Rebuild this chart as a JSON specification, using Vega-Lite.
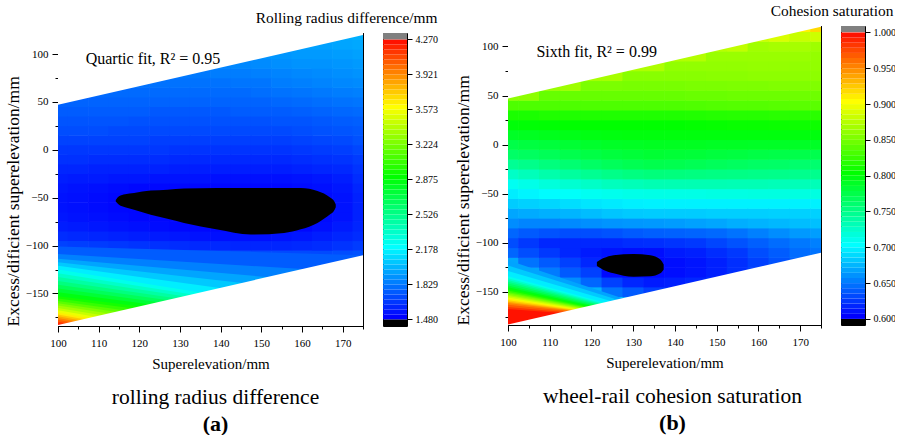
{
"$schema":"https://vega.github.io/schema/vega-lite/v6.json",
"padding":{"left":3,"top":3,"right":-6,"bottom":0},
"background":"white",
"config":{
 "font":"Liberation Serif",
 "view":{"stroke":"black","strokeWidth":1},
 "axis":{"labelFont":"Liberation Serif","titleFont":"Liberation Serif","labelFontSize":11,"titleFontSize":15,"titleFontWeight":"normal","labelColor":"black","titleColor":"black","tickColor":"black","domainColor":"black","grid":false,"zindex":1},
 "title":{"font":"Liberation Serif","fontWeight":"normal","color":"black","subtitleFont":"Liberation Serif","subtitleColor":"black"}
},
"datasets":{
"spacer":[{"s":0}],
"mask":[{"g":1,"x":100,"y":47,"y2":130},{"g":1,"x":175,"y":120,"y2":130},{"g":2,"x":100,"y":-183,"y2":-190},{"g":2,"x":175,"y":-110,"y2":-190}],
"noteA":[{"x":106.8,"y":89.6,"t":"Quartic fit, R² = 0.95"}],
"noteB":[{"x":106.8,"y":89.2,"t":"Sixth fit, R² = 0.99"}],
"ellA":[{"x":114.2,"y":-52.5,"y2":-54},{"x":115.0,"y":-48.5,"y2":-57.5},{"x":116.5,"y":-46.5,"y2":-60},{"x":118.7,"y":-45,"y2":-62.5},{"x":122.8,"y":-42.6,"y2":-67.7},{"x":126.9,"y":-41.6,"y2":-72},{"x":131.0,"y":-40.5,"y2":-76.3},{"x":139.2,"y":-39.8,"y2":-83.3},{"x":147.4,"y":-39.8,"y2":-88.5},{"x":155.6,"y":-39.8,"y2":-86.8},{"x":159.7,"y":-40,"y2":-83},{"x":163.8,"y":-43,"y2":-76.3},{"x":167.0,"y":-50,"y2":-67},{"x":167.8,"y":-53,"y2":-64.2},{"x":168.3,"y":-57,"y2":-60}],
"spotB":[{"x":121.3,"y":-119.5,"y2":-123.5},{"x":122.9,"y":-115.5,"y2":-127.5},{"x":125.3,"y":-112.5,"y2":-131},{"x":130.1,"y":-111.3,"y2":-134.5},{"x":134.1,"y":-112.5,"y2":-134},{"x":136.5,"y":-117,"y2":-131},{"x":137.3,"y":-122,"y2":-127}],
"bandA":[
{"k":10,"x":100,"y":-101,"y2":-260,"v":1.73},{"k":10,"x":175,"y":-110,"y2":-260,"v":1.73},
{"k":11,"x":100,"y":-108.9,"y2":-260,"v":1.83},{"k":11,"x":175,"y":-128.3,"y2":-260,"v":1.83},
{"k":12,"x":100,"y":-113.8,"y2":-260,"v":1.93},{"k":12,"x":175,"y":-141.7,"y2":-260,"v":1.93},
{"k":13,"x":100,"y":-117.5,"y2":-260,"v":2.03},{"k":13,"x":175,"y":-153.2,"y2":-260,"v":2.03},
{"k":14,"x":100,"y":-121.2,"y2":-260,"v":2.13},{"k":14,"x":175,"y":-164.9,"y2":-260,"v":2.13},
{"k":15,"x":100,"y":-124.9,"y2":-260,"v":2.23},{"k":15,"x":175,"y":-176.5,"y2":-260,"v":2.23},
{"k":16,"x":100,"y":-128.9,"y2":-260,"v":2.33},{"k":16,"x":175,"y":-179.0,"y2":-260,"v":2.33},
{"k":17,"x":100,"y":-132.9,"y2":-260,"v":2.43},{"k":17,"x":175,"y":-181.3,"y2":-260,"v":2.43},
{"k":18,"x":100,"y":-136.9,"y2":-260,"v":2.53},{"k":18,"x":175,"y":-183.6,"y2":-260,"v":2.53},
{"k":19,"x":100,"y":-140.8,"y2":-260,"v":2.63},{"k":19,"x":175,"y":-185.7,"y2":-260,"v":2.63},
{"k":20,"x":100,"y":-144.8,"y2":-260,"v":2.73},{"k":20,"x":175,"y":-188.1,"y2":-260,"v":2.73},
{"k":21,"x":100,"y":-148.8,"y2":-260,"v":2.83},{"k":21,"x":175,"y":-190.4,"y2":-260,"v":2.83},
{"k":22,"x":100,"y":-152.8,"y2":-260,"v":2.93},{"k":22,"x":175,"y":-192.6,"y2":-260,"v":2.93},
{"k":23,"x":100,"y":-155.3,"y2":-260,"v":3.02},{"k":23,"x":175,"y":-197.5,"y2":-260,"v":3.02},
{"k":24,"x":100,"y":-157.8,"y2":-260,"v":3.12},{"k":24,"x":175,"y":-202.6,"y2":-260,"v":3.12},
{"k":25,"x":100,"y":-160.2,"y2":-260,"v":3.22},{"k":25,"x":175,"y":-207.6,"y2":-260,"v":3.22},
{"k":26,"x":100,"y":-162.7,"y2":-260,"v":3.32},{"k":26,"x":175,"y":-212.7,"y2":-260,"v":3.32},
{"k":27,"x":100,"y":-165.1,"y2":-260,"v":3.42},{"k":27,"x":175,"y":-217.7,"y2":-260,"v":3.42},
{"k":28,"x":100,"y":-167.6,"y2":-260,"v":3.52},{"k":28,"x":175,"y":-222.8,"y2":-260,"v":3.52},
{"k":29,"x":100,"y":-170.0,"y2":-260,"v":3.62},{"k":29,"x":175,"y":-227.8,"y2":-260,"v":3.62},
{"k":30,"x":100,"y":-171.9,"y2":-260,"v":3.72},{"k":30,"x":175,"y":-230.0,"y2":-260,"v":3.72},
{"k":31,"x":100,"y":-173.9,"y2":-260,"v":3.82},{"k":31,"x":175,"y":-232.4,"y2":-260,"v":3.82},
{"k":32,"x":100,"y":-175.7,"y2":-260,"v":3.92},{"k":32,"x":175,"y":-234.5,"y2":-260,"v":3.92},
{"k":33,"x":100,"y":-177.6,"y2":-260,"v":4.02},{"k":33,"x":175,"y":-236.9,"y2":-260,"v":4.02},
{"k":34,"x":100,"y":-179.5,"y2":-260,"v":4.12},{"k":34,"x":175,"y":-239.1,"y2":-260,"v":4.12},
{"k":35,"x":100,"y":-181.4,"y2":-260,"v":4.22},{"k":35,"x":175,"y":-241.4,"y2":-260,"v":4.22}
],
"bandB":[
{"k":10,"x":100,"y":-117.7,"y2":-260,"v":0.664},{"k":10,"x":175,"y":-223.4,"y2":-260,"v":0.664},
{"k":11,"x":100,"y":-123.1,"y2":-260,"v":0.679},{"k":11,"x":175,"y":-222.6,"y2":-260,"v":0.679},
{"k":12,"x":100,"y":-128.6,"y2":-260,"v":0.693},{"k":12,"x":175,"y":-221.8,"y2":-260,"v":0.693},
{"k":13,"x":100,"y":-134.0,"y2":-260,"v":0.707},{"k":13,"x":175,"y":-221.0,"y2":-260,"v":0.707},
{"k":14,"x":100,"y":-135.9,"y2":-260,"v":0.721},{"k":14,"x":175,"y":-220.4,"y2":-260,"v":0.721},
{"k":15,"x":100,"y":-137.7,"y2":-260,"v":0.736},{"k":15,"x":175,"y":-219.5,"y2":-260,"v":0.736},
{"k":16,"x":100,"y":-139.6,"y2":-260,"v":0.75},{"k":16,"x":175,"y":-218.9,"y2":-260,"v":0.75},
{"k":17,"x":100,"y":-141.4,"y2":-260,"v":0.764},{"k":17,"x":175,"y":-218.1,"y2":-260,"v":0.764},
{"k":18,"x":100,"y":-143.3,"y2":-260,"v":0.779},{"k":18,"x":175,"y":-217.5,"y2":-260,"v":0.779},
{"k":19,"x":100,"y":-145.1,"y2":-260,"v":0.793},{"k":19,"x":175,"y":-216.7,"y2":-260,"v":0.793},
{"k":20,"x":100,"y":-147.0,"y2":-260,"v":0.807},{"k":20,"x":175,"y":-216.0,"y2":-260,"v":0.807},
{"k":21,"x":100,"y":-148.4,"y2":-260,"v":0.821},{"k":21,"x":175,"y":-214.6,"y2":-260,"v":0.821},
{"k":22,"x":100,"y":-149.9,"y2":-260,"v":0.836},{"k":22,"x":175,"y":-213.4,"y2":-260,"v":0.836},
{"k":23,"x":100,"y":-151.3,"y2":-260,"v":0.85},{"k":23,"x":175,"y":-211.9,"y2":-260,"v":0.85},
{"k":24,"x":100,"y":-152.7,"y2":-260,"v":0.864},{"k":24,"x":175,"y":-210.6,"y2":-260,"v":0.864},
{"k":25,"x":100,"y":-154.1,"y2":-260,"v":0.879},{"k":25,"x":175,"y":-209.2,"y2":-260,"v":0.879},
{"k":26,"x":100,"y":-155.6,"y2":-260,"v":0.893},{"k":26,"x":175,"y":-207.9,"y2":-260,"v":0.893},
{"k":27,"x":100,"y":-157.0,"y2":-260,"v":0.907},{"k":27,"x":175,"y":-206.5,"y2":-260,"v":0.907},
{"k":28,"x":100,"y":-158.4,"y2":-260,"v":0.921},{"k":28,"x":175,"y":-204.1,"y2":-260,"v":0.921},
{"k":29,"x":100,"y":-159.9,"y2":-260,"v":0.936},{"k":29,"x":175,"y":-201.7,"y2":-260,"v":0.936},
{"k":30,"x":100,"y":-161.3,"y2":-260,"v":0.95},{"k":30,"x":175,"y":-199.3,"y2":-260,"v":0.95},
{"k":31,"x":100,"y":-163.1,"y2":-260,"v":0.964},{"k":31,"x":175,"y":-196.7,"y2":-260,"v":0.964},
{"k":32,"x":100,"y":-165.2,"y2":-260,"v":0.979},{"k":32,"x":175,"y":-194.0,"y2":-260,"v":0.979},
{"k":33,"x":100,"y":-167.4,"y2":-260,"v":0.993},{"k":33,"x":175,"y":-191.4,"y2":-260,"v":0.993}
],
"a":[
{"x":100,"y":-180,"v":4.15},{"x":100,"y":-170,"v":3.57},{"x":100,"y":-160,"v":3.16},{"x":100,"y":-150,"v":2.80},{"x":100,"y":-140,"v":2.56},{"x":100,"y":-130,"v":2.31},{"x":100,"y":-120,"v":2.05},{"x":100,"y":-110,"v":1.80},{"x":100,"y":-100,"v":1.66},{"x":100,"y":-90,"v":1.60},{"x":100,"y":-80,"v":1.56},{"x":100,"y":-70,"v":1.54},{"x":100,"y":-60,"v":1.53},{"x":100,"y":-50,"v":1.53},{"x":100,"y":-40,"v":1.54},{"x":100,"y":-30,"v":1.56},{"x":100,"y":-20,"v":1.58},{"x":100,"y":-10,"v":1.61},{"x":100,"y":0,"v":1.63},{"x":100,"y":10,"v":1.66},{"x":100,"y":20,"v":1.69},{"x":100,"y":30,"v":1.71},{"x":100,"y":40,"v":1.73},{"x":100,"y":50,"v":1.75},
{"x":105,"y":-180,"v":3.75},{"x":105,"y":-170,"v":3.42},{"x":105,"y":-160,"v":3.05},{"x":105,"y":-150,"v":2.73},{"x":105,"y":-140,"v":2.48},{"x":105,"y":-130,"v":2.22},{"x":105,"y":-120,"v":1.98},{"x":105,"y":-110,"v":1.78},{"x":105,"y":-100,"v":1.65},{"x":105,"y":-90,"v":1.59},{"x":105,"y":-80,"v":1.55},{"x":105,"y":-70,"v":1.53},{"x":105,"y":-60,"v":1.52},{"x":105,"y":-50,"v":1.52},{"x":105,"y":-40,"v":1.53},{"x":105,"y":-30,"v":1.55},{"x":105,"y":-20,"v":1.58},{"x":105,"y":-10,"v":1.61},{"x":105,"y":0,"v":1.63},{"x":105,"y":10,"v":1.66},{"x":105,"y":20,"v":1.69},{"x":105,"y":30,"v":1.71},{"x":105,"y":40,"v":1.73},{"x":105,"y":50,"v":1.75},
{"x":110,"y":-180,"v":3.65},{"x":110,"y":-170,"v":3.30},{"x":110,"y":-160,"v":2.94},{"x":110,"y":-150,"v":2.66},{"x":110,"y":-140,"v":2.39},{"x":110,"y":-130,"v":2.14},{"x":110,"y":-120,"v":1.93},{"x":110,"y":-110,"v":1.76},{"x":110,"y":-100,"v":1.64},{"x":110,"y":-90,"v":1.58},{"x":110,"y":-80,"v":1.54},{"x":110,"y":-70,"v":1.52},{"x":110,"y":-60,"v":1.51},{"x":110,"y":-50,"v":1.51},{"x":110,"y":-40,"v":1.52},{"x":110,"y":-30,"v":1.55},{"x":110,"y":-20,"v":1.57},{"x":110,"y":-10,"v":1.60},{"x":110,"y":0,"v":1.63},{"x":110,"y":10,"v":1.66},{"x":110,"y":20,"v":1.69},{"x":110,"y":30,"v":1.71},{"x":110,"y":40,"v":1.73},{"x":110,"y":50,"v":1.75},{"x":110,"y":60,"v":1.77},
{"x":115,"y":-170,"v":3.15},{"x":115,"y":-160,"v":2.85},{"x":115,"y":-150,"v":2.58},{"x":115,"y":-140,"v":2.31},{"x":115,"y":-130,"v":2.08},{"x":115,"y":-120,"v":1.89},{"x":115,"y":-110,"v":1.74},{"x":115,"y":-100,"v":1.63},{"x":115,"y":-90,"v":1.57},{"x":115,"y":-80,"v":1.53},{"x":115,"y":-70,"v":1.51},{"x":115,"y":-60,"v":1.50},{"x":115,"y":-50,"v":1.50},{"x":115,"y":-40,"v":1.51},{"x":115,"y":-30,"v":1.54},{"x":115,"y":-20,"v":1.57},{"x":115,"y":-10,"v":1.60},{"x":115,"y":0,"v":1.63},{"x":115,"y":10,"v":1.66},{"x":115,"y":20,"v":1.68},{"x":115,"y":30,"v":1.71},{"x":115,"y":40,"v":1.73},{"x":115,"y":50,"v":1.75},{"x":115,"y":60,"v":1.77},
{"x":120,"y":-170,"v":3.00},{"x":120,"y":-160,"v":2.78},{"x":120,"y":-150,"v":2.50},{"x":120,"y":-140,"v":2.21},{"x":120,"y":-130,"v":2.03},{"x":120,"y":-120,"v":1.86},{"x":120,"y":-110,"v":1.73},{"x":120,"y":-100,"v":1.62},{"x":120,"y":-90,"v":1.56},{"x":120,"y":-80,"v":1.52},{"x":120,"y":-70,"v":1.50},{"x":120,"y":-60,"v":1.50},{"x":120,"y":-50,"v":1.50},{"x":120,"y":-40,"v":1.50},{"x":120,"y":-30,"v":1.54},{"x":120,"y":-20,"v":1.57},{"x":120,"y":-10,"v":1.60},{"x":120,"y":0,"v":1.63},{"x":120,"y":10,"v":1.66},{"x":120,"y":20,"v":1.68},{"x":120,"y":30,"v":1.70},{"x":120,"y":40,"v":1.73},{"x":120,"y":50,"v":1.75},{"x":120,"y":60,"v":1.77},{"x":120,"y":70,"v":1.79},
{"x":125,"y":-160,"v":2.65},{"x":125,"y":-150,"v":2.40},{"x":125,"y":-140,"v":2.14},{"x":125,"y":-130,"v":1.99},{"x":125,"y":-120,"v":1.83},{"x":125,"y":-110,"v":1.72},{"x":125,"y":-100,"v":1.61},{"x":125,"y":-90,"v":1.55},{"x":125,"y":-80,"v":1.51},{"x":125,"y":-70,"v":1.50},{"x":125,"y":-60,"v":1.50},{"x":125,"y":-50,"v":1.50},{"x":125,"y":-40,"v":1.50},{"x":125,"y":-30,"v":1.53},{"x":125,"y":-20,"v":1.57},{"x":125,"y":-10,"v":1.60},{"x":125,"y":0,"v":1.63},{"x":125,"y":10,"v":1.65},{"x":125,"y":20,"v":1.68},{"x":125,"y":30,"v":1.70},{"x":125,"y":40,"v":1.72},{"x":125,"y":50,"v":1.75},{"x":125,"y":60,"v":1.77},{"x":125,"y":70,"v":1.79},
{"x":130,"y":-160,"v":2.55},{"x":130,"y":-150,"v":2.30},{"x":130,"y":-140,"v":2.10},{"x":130,"y":-130,"v":1.95},{"x":130,"y":-120,"v":1.82},{"x":130,"y":-110,"v":1.71},{"x":130,"y":-100,"v":1.60},{"x":130,"y":-90,"v":1.54},{"x":130,"y":-80,"v":1.50},{"x":130,"y":-70,"v":1.50},{"x":130,"y":-60,"v":1.50},{"x":130,"y":-50,"v":1.50},{"x":130,"y":-40,"v":1.50},{"x":130,"y":-30,"v":1.53},{"x":130,"y":-20,"v":1.56},{"x":130,"y":-10,"v":1.59},{"x":130,"y":0,"v":1.62},{"x":130,"y":10,"v":1.65},{"x":130,"y":20,"v":1.68},{"x":130,"y":30,"v":1.70},{"x":130,"y":40,"v":1.72},{"x":130,"y":50,"v":1.75},{"x":130,"y":60,"v":1.77},{"x":130,"y":70,"v":1.79},{"x":130,"y":80,"v":1.81},
{"x":135,"y":-150,"v":2.20},{"x":135,"y":-140,"v":2.06},{"x":135,"y":-130,"v":1.92},{"x":135,"y":-120,"v":1.80},{"x":135,"y":-110,"v":1.70},{"x":135,"y":-100,"v":1.59},{"x":135,"y":-90,"v":1.53},{"x":135,"y":-80,"v":1.50},{"x":135,"y":-70,"v":1.50},{"x":135,"y":-60,"v":1.50},{"x":135,"y":-50,"v":1.50},{"x":135,"y":-40,"v":1.50},{"x":135,"y":-30,"v":1.53},{"x":135,"y":-20,"v":1.56},{"x":135,"y":-10,"v":1.59},{"x":135,"y":0,"v":1.62},{"x":135,"y":10,"v":1.65},{"x":135,"y":20,"v":1.68},{"x":135,"y":30,"v":1.70},{"x":135,"y":40,"v":1.72},{"x":135,"y":50,"v":1.75},{"x":135,"y":60,"v":1.77},{"x":135,"y":70,"v":1.79},{"x":135,"y":80,"v":1.81},
{"x":140,"y":-150,"v":2.13},{"x":140,"y":-140,"v":2.02},{"x":140,"y":-130,"v":1.90},{"x":140,"y":-120,"v":1.79},{"x":140,"y":-110,"v":1.70},{"x":140,"y":-100,"v":1.59},{"x":140,"y":-90,"v":1.52},{"x":140,"y":-80,"v":1.50},{"x":140,"y":-70,"v":1.50},{"x":140,"y":-60,"v":1.50},{"x":140,"y":-50,"v":1.50},{"x":140,"y":-40,"v":1.50},{"x":140,"y":-30,"v":1.52},{"x":140,"y":-20,"v":1.56},{"x":140,"y":-10,"v":1.59},{"x":140,"y":0,"v":1.62},{"x":140,"y":10,"v":1.65},{"x":140,"y":20,"v":1.68},{"x":140,"y":30,"v":1.70},{"x":140,"y":40,"v":1.72},{"x":140,"y":50,"v":1.75},{"x":140,"y":60,"v":1.77},{"x":140,"y":70,"v":1.79},{"x":140,"y":80,"v":1.82},{"x":140,"y":90,"v":1.84},
{"x":145,"y":-140,"v":1.98},{"x":145,"y":-130,"v":1.87},{"x":145,"y":-120,"v":1.78},{"x":145,"y":-110,"v":1.69},{"x":145,"y":-100,"v":1.58},{"x":145,"y":-90,"v":1.52},{"x":145,"y":-80,"v":1.50},{"x":145,"y":-70,"v":1.50},{"x":145,"y":-60,"v":1.50},{"x":145,"y":-50,"v":1.50},{"x":145,"y":-40,"v":1.50},{"x":145,"y":-30,"v":1.52},{"x":145,"y":-20,"v":1.56},{"x":145,"y":-10,"v":1.59},{"x":145,"y":0,"v":1.62},{"x":145,"y":10,"v":1.65},{"x":145,"y":20,"v":1.68},{"x":145,"y":30,"v":1.70},{"x":145,"y":40,"v":1.73},{"x":145,"y":50,"v":1.75},{"x":145,"y":60,"v":1.77},{"x":145,"y":70,"v":1.80},{"x":145,"y":80,"v":1.82},{"x":145,"y":90,"v":1.85},
{"x":150,"y":-140,"v":1.95},{"x":150,"y":-130,"v":1.85},{"x":150,"y":-120,"v":1.77},{"x":150,"y":-110,"v":1.68},{"x":150,"y":-100,"v":1.58},{"x":150,"y":-90,"v":1.52},{"x":150,"y":-80,"v":1.50},{"x":150,"y":-70,"v":1.50},{"x":150,"y":-60,"v":1.50},{"x":150,"y":-50,"v":1.50},{"x":150,"y":-40,"v":1.50},{"x":150,"y":-30,"v":1.52},{"x":150,"y":-20,"v":1.56},{"x":150,"y":-10,"v":1.59},{"x":150,"y":0,"v":1.62},{"x":150,"y":10,"v":1.65},{"x":150,"y":20,"v":1.68},{"x":150,"y":30,"v":1.70},{"x":150,"y":40,"v":1.73},{"x":150,"y":50,"v":1.75},{"x":150,"y":60,"v":1.78},{"x":150,"y":70,"v":1.80},{"x":150,"y":80,"v":1.83},{"x":150,"y":90,"v":1.86},{"x":150,"y":100,"v":1.88},
{"x":155,"y":-130,"v":1.83},{"x":155,"y":-120,"v":1.76},{"x":155,"y":-110,"v":1.68},{"x":155,"y":-100,"v":1.58},{"x":155,"y":-90,"v":1.53},{"x":155,"y":-80,"v":1.50},{"x":155,"y":-70,"v":1.50},{"x":155,"y":-60,"v":1.50},{"x":155,"y":-50,"v":1.50},{"x":155,"y":-40,"v":1.50},{"x":155,"y":-30,"v":1.52},{"x":155,"y":-20,"v":1.56},{"x":155,"y":-10,"v":1.59},{"x":155,"y":0,"v":1.62},{"x":155,"y":10,"v":1.65},{"x":155,"y":20,"v":1.68},{"x":155,"y":30,"v":1.71},{"x":155,"y":40,"v":1.73},{"x":155,"y":50,"v":1.76},{"x":155,"y":60,"v":1.79},{"x":155,"y":70,"v":1.82},{"x":155,"y":80,"v":1.84},{"x":155,"y":90,"v":1.87},{"x":155,"y":100,"v":1.89},
{"x":160,"y":-130,"v":1.82},{"x":160,"y":-120,"v":1.75},{"x":160,"y":-110,"v":1.68},{"x":160,"y":-100,"v":1.59},{"x":160,"y":-90,"v":1.54},{"x":160,"y":-80,"v":1.50},{"x":160,"y":-70,"v":1.50},{"x":160,"y":-60,"v":1.50},{"x":160,"y":-50,"v":1.50},{"x":160,"y":-40,"v":1.51},{"x":160,"y":-30,"v":1.53},{"x":160,"y":-20,"v":1.57},{"x":160,"y":-10,"v":1.60},{"x":160,"y":0,"v":1.63},{"x":160,"y":10,"v":1.66},{"x":160,"y":20,"v":1.69},{"x":160,"y":30,"v":1.71},{"x":160,"y":40,"v":1.74},{"x":160,"y":50,"v":1.77},{"x":160,"y":60,"v":1.80},{"x":160,"y":70,"v":1.83},{"x":160,"y":80,"v":1.85},{"x":160,"y":90,"v":1.88},{"x":160,"y":100,"v":1.90},{"x":160,"y":110,"v":1.92},
{"x":165,"y":-120,"v":1.74},{"x":165,"y":-110,"v":1.68},{"x":165,"y":-100,"v":1.60},{"x":165,"y":-90,"v":1.56},{"x":165,"y":-80,"v":1.52},{"x":165,"y":-70,"v":1.51},{"x":165,"y":-60,"v":1.51},{"x":165,"y":-50,"v":1.51},{"x":165,"y":-40,"v":1.52},{"x":165,"y":-30,"v":1.54},{"x":165,"y":-20,"v":1.58},{"x":165,"y":-10,"v":1.61},{"x":165,"y":0,"v":1.64},{"x":165,"y":10,"v":1.67},{"x":165,"y":20,"v":1.70},{"x":165,"y":30,"v":1.72},{"x":165,"y":40,"v":1.75},{"x":165,"y":50,"v":1.78},{"x":165,"y":60,"v":1.81},{"x":165,"y":70,"v":1.84},{"x":165,"y":80,"v":1.86},{"x":165,"y":90,"v":1.88},{"x":165,"y":100,"v":1.90},{"x":165,"y":110,"v":1.92},
{"x":170,"y":-120,"v":1.72},{"x":170,"y":-110,"v":1.69},{"x":170,"y":-100,"v":1.62},{"x":170,"y":-90,"v":1.58},{"x":170,"y":-80,"v":1.55},{"x":170,"y":-70,"v":1.53},{"x":170,"y":-60,"v":1.53},{"x":170,"y":-50,"v":1.53},{"x":170,"y":-40,"v":1.54},{"x":170,"y":-30,"v":1.56},{"x":170,"y":-20,"v":1.59},{"x":170,"y":-10,"v":1.62},{"x":170,"y":0,"v":1.65},{"x":170,"y":10,"v":1.68},{"x":170,"y":20,"v":1.71},{"x":170,"y":30,"v":1.73},{"x":170,"y":40,"v":1.76},{"x":170,"y":50,"v":1.79},{"x":170,"y":60,"v":1.82},{"x":170,"y":70,"v":1.85},{"x":170,"y":80,"v":1.87},{"x":170,"y":90,"v":1.89},{"x":170,"y":100,"v":1.91},{"x":170,"y":110,"v":1.93},{"x":170,"y":120,"v":1.95},
{"x":175,"y":-110,"v":1.70},{"x":175,"y":-100,"v":1.64},{"x":175,"y":-90,"v":1.60},{"x":175,"y":-80,"v":1.58},{"x":175,"y":-70,"v":1.57},{"x":175,"y":-60,"v":1.57},{"x":175,"y":-50,"v":1.57},{"x":175,"y":-40,"v":1.58},{"x":175,"y":-30,"v":1.60},{"x":175,"y":-20,"v":1.62},{"x":175,"y":-10,"v":1.64},{"x":175,"y":0,"v":1.67},{"x":175,"y":10,"v":1.70},{"x":175,"y":20,"v":1.72},{"x":175,"y":30,"v":1.74},{"x":175,"y":40,"v":1.77},{"x":175,"y":50,"v":1.80},{"x":175,"y":60,"v":1.83},{"x":175,"y":70,"v":1.86},{"x":175,"y":80,"v":1.88},{"x":175,"y":90,"v":1.90},{"x":175,"y":100,"v":1.92},{"x":175,"y":110,"v":1.94},{"x":175,"y":120,"v":1.96}
],
"b":[
{"x":100,"y":-180,"v":1.0},{"x":100,"y":-170,"v":0.99},{"x":100,"y":-160,"v":0.93},{"x":100,"y":-150,"v":0.83},{"x":100,"y":-140,"v":0.75},{"x":100,"y":-130,"v":0.69},{"x":100,"y":-120,"v":0.665},{"x":100,"y":-110,"v":0.64},{"x":100,"y":-100,"v":0.63},{"x":100,"y":-90,"v":0.64},{"x":100,"y":-80,"v":0.655},{"x":100,"y":-70,"v":0.665},{"x":100,"y":-60,"v":0.68},{"x":100,"y":-50,"v":0.693},{"x":100,"y":-40,"v":0.705},{"x":100,"y":-30,"v":0.722},{"x":100,"y":-20,"v":0.742},{"x":100,"y":-10,"v":0.76},{"x":100,"y":0,"v":0.772},{"x":100,"y":10,"v":0.785},{"x":100,"y":20,"v":0.797},{"x":100,"y":30,"v":0.81},{"x":100,"y":40,"v":0.83},{"x":100,"y":50,"v":0.855},
{"x":105,"y":-180,"v":1.0},{"x":105,"y":-170,"v":0.99},{"x":105,"y":-160,"v":0.90},{"x":105,"y":-150,"v":0.79},{"x":105,"y":-140,"v":0.70},{"x":105,"y":-130,"v":0.665},{"x":105,"y":-120,"v":0.645},{"x":105,"y":-110,"v":0.63},{"x":105,"y":-100,"v":0.622},{"x":105,"y":-90,"v":0.635},{"x":105,"y":-80,"v":0.652},{"x":105,"y":-70,"v":0.667},{"x":105,"y":-60,"v":0.682},{"x":105,"y":-50,"v":0.696},{"x":105,"y":-40,"v":0.709},{"x":105,"y":-30,"v":0.727},{"x":105,"y":-20,"v":0.746},{"x":105,"y":-10,"v":0.763},{"x":105,"y":0,"v":0.775},{"x":105,"y":10,"v":0.787},{"x":105,"y":20,"v":0.798},{"x":105,"y":30,"v":0.81},{"x":105,"y":40,"v":0.83},{"x":105,"y":50,"v":0.855},
{"x":110,"y":-180,"v":1.0},{"x":110,"y":-170,"v":0.98},{"x":110,"y":-160,"v":0.85},{"x":110,"y":-150,"v":0.73},{"x":110,"y":-140,"v":0.68},{"x":110,"y":-130,"v":0.648},{"x":110,"y":-120,"v":0.635},{"x":110,"y":-110,"v":0.622},{"x":110,"y":-100,"v":0.615},{"x":110,"y":-90,"v":0.632},{"x":110,"y":-80,"v":0.652},{"x":110,"y":-70,"v":0.669},{"x":110,"y":-60,"v":0.684},{"x":110,"y":-50,"v":0.699},{"x":110,"y":-40,"v":0.714},{"x":110,"y":-30,"v":0.733},{"x":110,"y":-20,"v":0.751},{"x":110,"y":-10,"v":0.766},{"x":110,"y":0,"v":0.777},{"x":110,"y":10,"v":0.789},{"x":110,"y":20,"v":0.799},{"x":110,"y":30,"v":0.812},{"x":110,"y":40,"v":0.83},{"x":110,"y":50,"v":0.84},{"x":110,"y":60,"v":0.86},
{"x":115,"y":-170,"v":0.93},{"x":115,"y":-160,"v":0.79},{"x":115,"y":-150,"v":0.69},{"x":115,"y":-140,"v":0.655},{"x":115,"y":-130,"v":0.635},{"x":115,"y":-120,"v":0.625},{"x":115,"y":-110,"v":0.615},{"x":115,"y":-100,"v":0.615},{"x":115,"y":-90,"v":0.63},{"x":115,"y":-80,"v":0.654},{"x":115,"y":-70,"v":0.671},{"x":115,"y":-60,"v":0.687},{"x":115,"y":-50,"v":0.702},{"x":115,"y":-40,"v":0.718},{"x":115,"y":-30,"v":0.738},{"x":115,"y":-20,"v":0.756},{"x":115,"y":-10,"v":0.77},{"x":115,"y":0,"v":0.78},{"x":115,"y":10,"v":0.791},{"x":115,"y":20,"v":0.8},{"x":115,"y":30,"v":0.812},{"x":115,"y":40,"v":0.83},{"x":115,"y":50,"v":0.84},{"x":115,"y":60,"v":0.862},
{"x":120,"y":-170,"v":0.82},{"x":120,"y":-160,"v":0.73},{"x":120,"y":-150,"v":0.67},{"x":120,"y":-140,"v":0.64},{"x":120,"y":-130,"v":0.625},{"x":120,"y":-120,"v":0.615},{"x":120,"y":-110,"v":0.61},{"x":120,"y":-100,"v":0.615},{"x":120,"y":-90,"v":0.63},{"x":120,"y":-80,"v":0.656},{"x":120,"y":-70,"v":0.674},{"x":120,"y":-60,"v":0.69},{"x":120,"y":-50,"v":0.705},{"x":120,"y":-40,"v":0.722},{"x":120,"y":-30,"v":0.743},{"x":120,"y":-20,"v":0.761},{"x":120,"y":-10,"v":0.773},{"x":120,"y":0,"v":0.783},{"x":120,"y":10,"v":0.793},{"x":120,"y":20,"v":0.8},{"x":120,"y":30,"v":0.812},{"x":120,"y":40,"v":0.83},{"x":120,"y":50,"v":0.84},{"x":120,"y":60,"v":0.848},{"x":120,"y":70,"v":0.865},
{"x":125,"y":-160,"v":0.69},{"x":125,"y":-150,"v":0.645},{"x":125,"y":-140,"v":0.625},{"x":125,"y":-130,"v":0.603},{"x":125,"y":-120,"v":0.603},{"x":125,"y":-110,"v":0.607},{"x":125,"y":-100,"v":0.615},{"x":125,"y":-90,"v":0.632},{"x":125,"y":-80,"v":0.658},{"x":125,"y":-70,"v":0.677},{"x":125,"y":-60,"v":0.692},{"x":125,"y":-50,"v":0.707},{"x":125,"y":-40,"v":0.726},{"x":125,"y":-30,"v":0.747},{"x":125,"y":-20,"v":0.765},{"x":125,"y":-10,"v":0.776},{"x":125,"y":0,"v":0.785},{"x":125,"y":10,"v":0.794},{"x":125,"y":20,"v":0.80},{"x":125,"y":30,"v":0.812},{"x":125,"y":40,"v":0.83},{"x":125,"y":50,"v":0.84},{"x":125,"y":60,"v":0.848},{"x":125,"y":70,"v":0.865},
{"x":130,"y":-160,"v":0.67},{"x":130,"y":-150,"v":0.635},{"x":130,"y":-140,"v":0.615},{"x":130,"y":-130,"v":0.603},{"x":130,"y":-120,"v":0.603},{"x":130,"y":-110,"v":0.605},{"x":130,"y":-100,"v":0.617},{"x":130,"y":-90,"v":0.635},{"x":130,"y":-80,"v":0.659},{"x":130,"y":-70,"v":0.679},{"x":130,"y":-60,"v":0.694},{"x":130,"y":-50,"v":0.709},{"x":130,"y":-40,"v":0.728},{"x":130,"y":-30,"v":0.75},{"x":130,"y":-20,"v":0.768},{"x":130,"y":-10,"v":0.778},{"x":130,"y":0,"v":0.786},{"x":130,"y":10,"v":0.795},{"x":130,"y":20,"v":0.80},{"x":130,"y":30,"v":0.812},{"x":130,"y":40,"v":0.83},{"x":130,"y":50,"v":0.84},{"x":130,"y":60,"v":0.847},{"x":130,"y":70,"v":0.853},{"x":130,"y":80,"v":0.868},
{"x":135,"y":-150,"v":0.625},{"x":135,"y":-140,"v":0.61},{"x":135,"y":-130,"v":0.603},{"x":135,"y":-120,"v":0.603},{"x":135,"y":-110,"v":0.605},{"x":135,"y":-100,"v":0.618},{"x":135,"y":-90,"v":0.637},{"x":135,"y":-80,"v":0.66},{"x":135,"y":-70,"v":0.68},{"x":135,"y":-60,"v":0.695},{"x":135,"y":-50,"v":0.71},{"x":135,"y":-40,"v":0.73},{"x":135,"y":-30,"v":0.752},{"x":135,"y":-20,"v":0.77},{"x":135,"y":-10,"v":0.78},{"x":135,"y":0,"v":0.787},{"x":135,"y":10,"v":0.795},{"x":135,"y":20,"v":0.80},{"x":135,"y":30,"v":0.812},{"x":135,"y":40,"v":0.83},{"x":135,"y":50,"v":0.84},{"x":135,"y":60,"v":0.847},{"x":135,"y":70,"v":0.853},{"x":135,"y":80,"v":0.868},
{"x":140,"y":-150,"v":0.62},{"x":140,"y":-140,"v":0.612},{"x":140,"y":-130,"v":0.605},{"x":140,"y":-120,"v":0.605},{"x":140,"y":-110,"v":0.61},{"x":140,"y":-100,"v":0.62},{"x":140,"y":-90,"v":0.638},{"x":140,"y":-80,"v":0.661},{"x":140,"y":-70,"v":0.68},{"x":140,"y":-60,"v":0.695},{"x":140,"y":-50,"v":0.71},{"x":140,"y":-40,"v":0.73},{"x":140,"y":-30,"v":0.751},{"x":140,"y":-20,"v":0.769},{"x":140,"y":-10,"v":0.779},{"x":140,"y":0,"v":0.787},{"x":140,"y":10,"v":0.795},{"x":140,"y":20,"v":0.80},{"x":140,"y":30,"v":0.812},{"x":140,"y":40,"v":0.83},{"x":140,"y":50,"v":0.84},{"x":140,"y":60,"v":0.847},{"x":140,"y":70,"v":0.853},{"x":140,"y":80,"v":0.857},{"x":140,"y":90,"v":0.87},
{"x":145,"y":-140,"v":0.615},{"x":145,"y":-130,"v":0.608},{"x":145,"y":-120,"v":0.608},{"x":145,"y":-110,"v":0.612},{"x":145,"y":-100,"v":0.622},{"x":145,"y":-90,"v":0.639},{"x":145,"y":-80,"v":0.663},{"x":145,"y":-70,"v":0.68},{"x":145,"y":-60,"v":0.695},{"x":145,"y":-50,"v":0.71},{"x":145,"y":-40,"v":0.73},{"x":145,"y":-30,"v":0.75},{"x":145,"y":-20,"v":0.767},{"x":145,"y":-10,"v":0.778},{"x":145,"y":0,"v":0.787},{"x":145,"y":10,"v":0.795},{"x":145,"y":20,"v":0.801},{"x":145,"y":30,"v":0.813},{"x":145,"y":40,"v":0.831},{"x":145,"y":50,"v":0.841},{"x":145,"y":60,"v":0.848},{"x":145,"y":70,"v":0.853},{"x":145,"y":80,"v":0.857},{"x":145,"y":90,"v":0.87},
{"x":150,"y":-140,"v":0.62},{"x":150,"y":-130,"v":0.612},{"x":150,"y":-120,"v":0.612},{"x":150,"y":-110,"v":0.617},{"x":150,"y":-100,"v":0.627},{"x":150,"y":-90,"v":0.641},{"x":150,"y":-80,"v":0.665},{"x":150,"y":-70,"v":0.681},{"x":150,"y":-60,"v":0.695},{"x":150,"y":-50,"v":0.711},{"x":150,"y":-40,"v":0.73},{"x":150,"y":-30,"v":0.749},{"x":150,"y":-20,"v":0.765},{"x":150,"y":-10,"v":0.776},{"x":150,"y":0,"v":0.786},{"x":150,"y":10,"v":0.795},{"x":150,"y":20,"v":0.802},{"x":150,"y":30,"v":0.814},{"x":150,"y":40,"v":0.832},{"x":150,"y":50,"v":0.841},{"x":150,"y":60,"v":0.848},{"x":150,"y":70,"v":0.854},{"x":150,"y":80,"v":0.857},{"x":150,"y":90,"v":0.86},{"x":150,"y":100,"v":0.872},
{"x":155,"y":-130,"v":0.618},{"x":155,"y":-120,"v":0.618},{"x":155,"y":-110,"v":0.622},{"x":155,"y":-100,"v":0.632},{"x":155,"y":-90,"v":0.645},{"x":155,"y":-80,"v":0.668},{"x":155,"y":-70,"v":0.681},{"x":155,"y":-60,"v":0.695},{"x":155,"y":-50,"v":0.711},{"x":155,"y":-40,"v":0.729},{"x":155,"y":-30,"v":0.748},{"x":155,"y":-20,"v":0.763},{"x":155,"y":-10,"v":0.775},{"x":155,"y":0,"v":0.786},{"x":155,"y":10,"v":0.795},{"x":155,"y":20,"v":0.803},{"x":155,"y":30,"v":0.815},{"x":155,"y":40,"v":0.833},{"x":155,"y":50,"v":0.842},{"x":155,"y":60,"v":0.849},{"x":155,"y":70,"v":0.854},{"x":155,"y":80,"v":0.857},{"x":155,"y":90,"v":0.86},{"x":155,"y":100,"v":0.875},
{"x":160,"y":-130,"v":0.625},{"x":160,"y":-120,"v":0.625},{"x":160,"y":-110,"v":0.63},{"x":160,"y":-100,"v":0.637},{"x":160,"y":-90,"v":0.65},{"x":160,"y":-80,"v":0.67},{"x":160,"y":-70,"v":0.681},{"x":160,"y":-60,"v":0.695},{"x":160,"y":-50,"v":0.712},{"x":160,"y":-40,"v":0.729},{"x":160,"y":-30,"v":0.747},{"x":160,"y":-20,"v":0.761},{"x":160,"y":-10,"v":0.773},{"x":160,"y":0,"v":0.785},{"x":160,"y":10,"v":0.795},{"x":160,"y":20,"v":0.803},{"x":160,"y":30,"v":0.815},{"x":160,"y":40,"v":0.833},{"x":160,"y":50,"v":0.842},{"x":160,"y":60,"v":0.849},{"x":160,"y":70,"v":0.855},{"x":160,"y":80,"v":0.858},{"x":160,"y":90,"v":0.86},{"x":160,"y":100,"v":0.863},{"x":160,"y":110,"v":0.88},
{"x":165,"y":-120,"v":0.632},{"x":165,"y":-110,"v":0.636},{"x":165,"y":-100,"v":0.642},{"x":165,"y":-90,"v":0.655},{"x":165,"y":-80,"v":0.672},{"x":165,"y":-70,"v":0.682},{"x":165,"y":-60,"v":0.695},{"x":165,"y":-50,"v":0.712},{"x":165,"y":-40,"v":0.728},{"x":165,"y":-30,"v":0.746},{"x":165,"y":-20,"v":0.76},{"x":165,"y":-10,"v":0.772},{"x":165,"y":0,"v":0.785},{"x":165,"y":10,"v":0.795},{"x":165,"y":20,"v":0.804},{"x":165,"y":30,"v":0.816},{"x":165,"y":40,"v":0.834},{"x":165,"y":50,"v":0.842},{"x":165,"y":60,"v":0.85},{"x":165,"y":70,"v":0.855},{"x":165,"y":80,"v":0.858},{"x":165,"y":90,"v":0.86},{"x":165,"y":100,"v":0.865},{"x":165,"y":110,"v":0.885},
{"x":170,"y":-120,"v":0.638},{"x":170,"y":-110,"v":0.642},{"x":170,"y":-100,"v":0.647},{"x":170,"y":-90,"v":0.66},{"x":170,"y":-80,"v":0.674},{"x":170,"y":-70,"v":0.682},{"x":170,"y":-60,"v":0.695},{"x":170,"y":-50,"v":0.712},{"x":170,"y":-40,"v":0.728},{"x":170,"y":-30,"v":0.745},{"x":170,"y":-20,"v":0.758},{"x":170,"y":-10,"v":0.771},{"x":170,"y":0,"v":0.785},{"x":170,"y":10,"v":0.795},{"x":170,"y":20,"v":0.805},{"x":170,"y":30,"v":0.816},{"x":170,"y":40,"v":0.835},{"x":170,"y":50,"v":0.843},{"x":170,"y":60,"v":0.85},{"x":170,"y":70,"v":0.855},{"x":170,"y":80,"v":0.857},{"x":170,"y":90,"v":0.86},{"x":170,"y":100,"v":0.865},{"x":170,"y":110,"v":0.878},{"x":170,"y":120,"v":0.905},
{"x":175,"y":-110,"v":0.645},{"x":175,"y":-100,"v":0.65},{"x":175,"y":-90,"v":0.662},{"x":175,"y":-80,"v":0.675},{"x":175,"y":-70,"v":0.682},{"x":175,"y":-60,"v":0.695},{"x":175,"y":-50,"v":0.712},{"x":175,"y":-40,"v":0.728},{"x":175,"y":-30,"v":0.745},{"x":175,"y":-20,"v":0.757},{"x":175,"y":-10,"v":0.77},{"x":175,"y":0,"v":0.785},{"x":175,"y":10,"v":0.795},{"x":175,"y":20,"v":0.805},{"x":175,"y":30,"v":0.816},{"x":175,"y":40,"v":0.835},{"x":175,"y":50,"v":0.843},{"x":175,"y":60,"v":0.85},{"x":175,"y":70,"v":0.855},{"x":175,"y":80,"v":0.857},{"x":175,"y":90,"v":0.858},{"x":175,"y":100,"v":0.862},{"x":175,"y":110,"v":0.88},{"x":175,"y":120,"v":0.915}
],
"barA":[
{"lo":1.414,"hi":1.48},{"lo":1.480,"hi":1.530},{"lo":1.530,"hi":1.580},{"lo":1.580,"hi":1.630},{"lo":1.630,"hi":1.679},{"lo":1.679,"hi":1.729},{"lo":1.729,"hi":1.779},{"lo":1.779,"hi":1.829},{"lo":1.829,"hi":1.879},{"lo":1.879,"hi":1.929},{"lo":1.929,"hi":1.978},{"lo":1.978,"hi":2.028},{"lo":2.028,"hi":2.078},{"lo":2.078,"hi":2.128},{"lo":2.128,"hi":2.178},{"lo":2.178,"hi":2.228},{"lo":2.228,"hi":2.277},{"lo":2.277,"hi":2.327},{"lo":2.327,"hi":2.377},{"lo":2.377,"hi":2.427},{"lo":2.427,"hi":2.477},{"lo":2.477,"hi":2.526},{"lo":2.526,"hi":2.576},{"lo":2.576,"hi":2.626},{"lo":2.626,"hi":2.676},{"lo":2.676,"hi":2.726},{"lo":2.726,"hi":2.775},{"lo":2.775,"hi":2.825},{"lo":2.825,"hi":2.875},{"lo":2.875,"hi":2.925},{"lo":2.925,"hi":2.975},{"lo":2.975,"hi":3.024},{"lo":3.024,"hi":3.074},{"lo":3.074,"hi":3.124},{"lo":3.124,"hi":3.174},{"lo":3.174,"hi":3.224},{"lo":3.224,"hi":3.274},{"lo":3.274,"hi":3.323},{"lo":3.323,"hi":3.373},{"lo":3.373,"hi":3.423},{"lo":3.423,"hi":3.473},{"lo":3.473,"hi":3.523},{"lo":3.523,"hi":3.573},{"lo":3.573,"hi":3.622},{"lo":3.622,"hi":3.672},{"lo":3.672,"hi":3.722},{"lo":3.722,"hi":3.772},{"lo":3.772,"hi":3.822},{"lo":3.822,"hi":3.871},{"lo":3.871,"hi":3.921},{"lo":3.921,"hi":3.971},{"lo":3.971,"hi":4.021},{"lo":4.021,"hi":4.071},{"lo":4.071,"hi":4.121},{"lo":4.121,"hi":4.170},{"lo":4.170,"hi":4.220},{"lo":4.220,"hi":4.270},{"lo":4.2705,"hi":4.334}
],
"barB":[
{"lo":0.5915,"hi":0.6},{"lo":0.6000,"hi":0.6071},{"lo":0.6071,"hi":0.6143},{"lo":0.6143,"hi":0.6214},{"lo":0.6214,"hi":0.6286},{"lo":0.6286,"hi":0.6357},{"lo":0.6357,"hi":0.6429},{"lo":0.6429,"hi":0.6500},{"lo":0.6500,"hi":0.6571},{"lo":0.6571,"hi":0.6643},{"lo":0.6643,"hi":0.6714},{"lo":0.6714,"hi":0.6786},{"lo":0.6786,"hi":0.6857},{"lo":0.6857,"hi":0.6929},{"lo":0.6929,"hi":0.7000},{"lo":0.7000,"hi":0.7071},{"lo":0.7071,"hi":0.7143},{"lo":0.7143,"hi":0.7214},{"lo":0.7214,"hi":0.7286},{"lo":0.7286,"hi":0.7357},{"lo":0.7357,"hi":0.7429},{"lo":0.7429,"hi":0.7500},{"lo":0.7500,"hi":0.7571},{"lo":0.7571,"hi":0.7643},{"lo":0.7643,"hi":0.7714},{"lo":0.7714,"hi":0.7786},{"lo":0.7786,"hi":0.7857},{"lo":0.7857,"hi":0.7929},{"lo":0.7929,"hi":0.8000},{"lo":0.8000,"hi":0.8071},{"lo":0.8071,"hi":0.8143},{"lo":0.8143,"hi":0.8214},{"lo":0.8214,"hi":0.8286},{"lo":0.8286,"hi":0.8357},{"lo":0.8357,"hi":0.8429},{"lo":0.8429,"hi":0.8500},{"lo":0.8500,"hi":0.8571},{"lo":0.8571,"hi":0.8643},{"lo":0.8643,"hi":0.8714},{"lo":0.8714,"hi":0.8786},{"lo":0.8786,"hi":0.8857},{"lo":0.8857,"hi":0.8929},{"lo":0.8929,"hi":0.9000},{"lo":0.9000,"hi":0.9071},{"lo":0.9071,"hi":0.9143},{"lo":0.9143,"hi":0.9214},{"lo":0.9214,"hi":0.9286},{"lo":0.9286,"hi":0.9357},{"lo":0.9357,"hi":0.9429},{"lo":0.9429,"hi":0.9500},{"lo":0.9500,"hi":0.9571},{"lo":0.9571,"hi":0.9643},{"lo":0.9643,"hi":0.9714},{"lo":0.9714,"hi":0.9786},{"lo":0.9786,"hi":0.9857},{"lo":0.9857,"hi":0.9929},{"lo":0.9929,"hi":1.0},{"lo":1.0005,"hi":1.009}
]
},
"resolve":{"scale":{"color":"independent"}},
"spacing":15,
"hconcat":[
{"vconcat":[
  {"width":1,"height":1,"data":{"name":"spacer"},"mark":{"type":"rect","opacity":0},"encoding":{},"view":{"stroke":null}},
  {"hconcat":[
   {"width":305,"height":293,
    "title":{"text":"rolling radius difference","subtitle":"(a)","orient":"bottom","anchor":"middle","frame":"group","dx":5,"offset":16,"fontSize":21.5,"subtitleFontSize":22,"subtitleFontWeight":"bold","subtitlePadding":5},
    "resolve":{"axis":{"x":"independent","y":"independent"}},
    "layer":[
     {"encoding":{
       "x":{"field":"x","type":"quantitative","scale":{"domain":[100,175],"nice":false,"zero":false},"axis":{"title":"Superelevation/mm","values":[100,105,110,115,120,125,130,135,140,145,150,155,160,165,170,175],"labelExpr":"datum.value % 10 === 0 ? datum.label : ''","tickSize":{"condition":{"test":"datum.value % 10 === 0","value":6},"value":3},"labelFlush":false,"labelOverlap":false,"labelPadding":5,"titlePadding":8}},
       "y":{"field":"y","type":"quantitative","scale":{"domain":[-184,122],"nice":false,"zero":false},"axis":{"title":"Excess/dificient superelevation/mm","titleFontSize":17.5,"titleAnchor":"start","values":[-175,-150,-125,-100,-75,-50,-25,0,25,50,75,100],"labelExpr":"datum.value % 50 === 0 ? datum.label : ''","tickSize":{"condition":{"test":"datum.value % 50 === 0","value":6},"value":3},"labelOverlap":false,"labelPadding":4,"titlePadding":3}}
      },
      "layer":[
       {"data":{"name":"a"},"mark":{"type":"rect","width":21,"height":10.2,"clip":true},
        "encoding":{"color":{"field":"v","type":"quantitative","legend":null,"scale":{"type":"linear","domain":[1.3,1.4799,1.48,1.829,2.178,2.526,2.875,3.224,3.573,3.921,4.27,4.2701,4.5],"range":["#000000","#000000","#0000ff","#0080ff","#00ffff","#00ff80","#00ff00","#80ff00","#ffff00","#ff8000","#ff0000","#808080","#808080"],"interpolate":"rgb","clamp":true,"zero":false,"nice":false}}}},
       {"data":{"name":"bandA"},"mark":{"type":"area","clip":true},"encoding":{"y2":{"field":"y2"},"detail":{"field":"k","type":"ordinal"},"color":{"field":"v","type":"quantitative","legend":null}}},
       {"data":{"name":"ellA"},"mark":{"type":"area","color":"black","interpolate":"monotone","clip":true},"encoding":{"y2":{"field":"y2"}}},
       {"data":{"name":"mask"},"mark":{"type":"area","color":"white","clip":true},"encoding":{"y2":{"field":"y2"},"detail":{"field":"g","type":"nominal"}}}
      ]},
     {"data":{"name":"noteA"},"mark":{"type":"text","align":"left","baseline":"alphabetic","fontSize":16,"font":"Liberation Serif","color":"black"},
      "encoding":{
       "x":{"field":"x","type":"quantitative","scale":{"domain":[100,175],"nice":false,"zero":false},"axis":{"orient":"top","labels":false,"ticks":false,"title":null,"domain":true}},
       "y":{"field":"y","type":"quantitative","scale":{"domain":[-184,122],"nice":false,"zero":false},"axis":{"orient":"right","labels":false,"ticks":false,"title":null,"domain":true}},
       "text":{"field":"t"}}}
    ]
   },
   {"width":24,"height":293,"data":{"name":"barA"},
    "title":{"text":"Rolling radius difference/mm","anchor":"end","frame":"bounds","fontSize":15.4,"offset":6.5},
    "mark":{"type":"rect"},
    "encoding":{
     "y":{"field":"lo","type":"quantitative","scale":{"domain":[1.414,4.334],"nice":false,"zero":false},"axis":{"orient":"right","title":null,"values":[1.48,1.829,2.178,2.526,2.875,3.224,3.573,3.921,4.27],"format":".3f","domain":false,"tickSize":5,"labelPadding":3,"labelFontSize":10,"labelOverlap":false}},
     "y2":{"field":"hi"},
     "color":{"field":"lo","type":"quantitative","legend":null,"scale":{"type":"linear","domain":[1.3,1.4799,1.48,1.829,2.178,2.526,2.875,3.224,3.573,3.921,4.27,4.2701,4.5],"range":["#000000","#000000","#0000ff","#0080ff","#00ffff","#00ff80","#00ff00","#80ff00","#ffff00","#ff8000","#ff0000","#808080","#808080"],"interpolate":"rgb","clamp":true,"zero":false,"nice":false}}
    }
   }
  ],"spacing":20,"bounds":"flush"}
 ],"spacing":6,"bounds":"flush"},
{"hconcat":[
   {"width":313,"height":299,
    "title":{"text":"wheel-rail cohesion saturation","subtitle":"(b)","orient":"bottom","anchor":"middle","frame":"group","dx":8,"offset":16,"fontSize":21.5,"subtitleFontSize":22,"subtitleFontWeight":"bold","subtitlePadding":5},
    "resolve":{"axis":{"x":"independent","y":"independent"}},
    "layer":[
     {"encoding":{
       "x":{"field":"x","type":"quantitative","scale":{"domain":[100,175],"nice":false,"zero":false},"axis":{"title":"Superelevation/mm","values":[100,105,110,115,120,125,130,135,140,145,150,155,160,165,170,175],"labelExpr":"datum.value % 10 === 0 ? datum.label : ''","tickSize":{"condition":{"test":"datum.value % 10 === 0","value":6},"value":3},"labelFlush":false,"labelOverlap":false,"labelPadding":5,"titlePadding":8}},
       "y":{"field":"y","type":"quantitative","scale":{"domain":[-183.6,120.8],"nice":false,"zero":false},"axis":{"title":"Excess/dificient superelevation/mm","titleFontSize":17.5,"titleAnchor":"start","values":[-175,-150,-125,-100,-75,-50,-25,0,25,50,75,100],"labelExpr":"datum.value % 50 === 0 ? datum.label : ''","tickSize":{"condition":{"test":"datum.value % 50 === 0","value":6},"value":3},"labelOverlap":false,"labelPadding":4,"titlePadding":3}}
      },
      "layer":[
       {"data":{"name":"b"},"mark":{"type":"rect","width":21.5,"height":10.4,"clip":true},
        "encoding":{"color":{"field":"v","type":"quantitative","legend":null,"scale":{"type":"linear","domain":[0.5,0.5999,0.6,0.65,0.7,0.75,0.8,0.85,0.9,0.95,1.0,1.0001,1.1],"range":["#000000","#000000","#0000ff","#0080ff","#00ffff","#00ff80","#00ff00","#80ff00","#ffff00","#ff8000","#ff0000","#808080","#808080"],"interpolate":"rgb","clamp":true,"zero":false,"nice":false}}}},
       {"data":{"name":"bandB"},"mark":{"type":"area","clip":true},"encoding":{"y2":{"field":"y2"},"detail":{"field":"k","type":"ordinal"},"color":{"field":"v","type":"quantitative","legend":null}}},
       {"data":{"name":"spotB"},"mark":{"type":"area","color":"black","interpolate":"monotone","clip":true},"encoding":{"y2":{"field":"y2"}}},
       {"data":{"name":"mask"},"mark":{"type":"area","color":"white","clip":true},"encoding":{"y2":{"field":"y2"},"detail":{"field":"g","type":"nominal"}}}
      ]},
     {"data":{"name":"noteB"},"mark":{"type":"text","align":"left","baseline":"alphabetic","fontSize":16,"font":"Liberation Serif","color":"black"},
      "encoding":{
       "x":{"field":"x","type":"quantitative","scale":{"domain":[100,175],"nice":false,"zero":false},"axis":{"orient":"top","labels":false,"ticks":false,"title":null,"domain":true}},
       "y":{"field":"y","type":"quantitative","scale":{"domain":[-183.6,120.8],"nice":false,"zero":false},"axis":{"orient":"right","labels":false,"ticks":false,"title":null,"domain":true}},
       "text":{"field":"t"}}}
    ]
   },
   {"width":24,"height":299,"data":{"name":"barB"},
    "title":{"text":"Cohesion saturation","anchor":"end","frame":"bounds","fontSize":15.4,"offset":7,"dx":-7},
    "mark":{"type":"rect"},
    "encoding":{
     "y":{"field":"lo","type":"quantitative","scale":{"domain":[0.5915,1.009],"nice":false,"zero":false},"axis":{"orient":"right","title":null,"values":[0.6,0.65,0.7,0.75,0.8,0.85,0.9,0.95,1.0],"labelExpr":"datum.value > 0.999 ? '1.000' : format(datum.value, '.4f')","domain":false,"tickSize":5,"labelPadding":3,"labelFontSize":10,"labelOverlap":false}},
     "y2":{"field":"hi"},
     "color":{"field":"lo","type":"quantitative","legend":null,"scale":{"type":"linear","domain":[0.5,0.5999,0.6,0.65,0.7,0.75,0.8,0.85,0.9,0.95,1.0,1.0001,1.1],"range":["#000000","#000000","#0000ff","#0080ff","#00ffff","#00ff80","#00ff00","#80ff00","#ffff00","#ff8000","#ff0000","#808080","#808080"],"interpolate":"rgb","clamp":true,"zero":false,"nice":false}}
    }
   }
 ],"spacing":20,"bounds":"flush"}
]
}
